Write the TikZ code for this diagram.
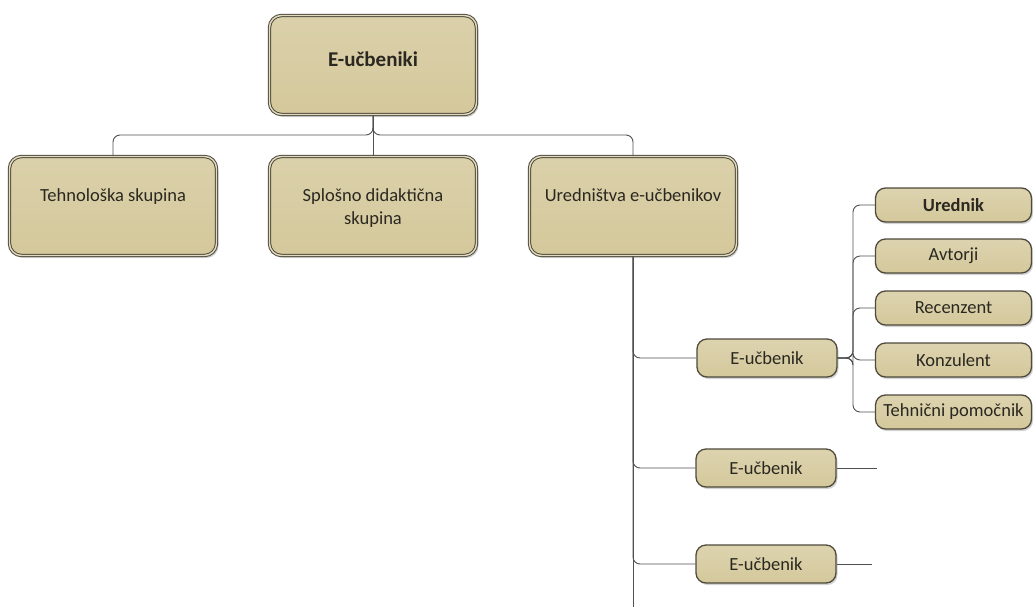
\documentclass[tikz,border=0pt]{standalone}
\usepackage{fontspec}
\setmainfont{Carlito}
\usetikzlibrary{shadows}
\definecolor{boxfill}{HTML}{D4C89B}
\definecolor{boxline}{HTML}{4E4A3C}
\definecolor{boxgap}{HTML}{E2DAC0}
\definecolor{conn}{HTML}{505050}
\definecolor{txtc}{HTML}{2A2820}
\tikzset{
  bigbox/.style={draw=boxline, line width=1pt, double=boxgap, double distance=1.4pt,
    top color=boxfill!85!white, bottom color=boxfill, rounded corners=12pt,
    minimum width=207pt, minimum height=99pt, inner sep=0pt,
    drop shadow={shadow xshift=2pt, shadow yshift=-2.5pt, opacity=0.35}},
  smallbox/.style={draw=boxline, line width=1.3pt,
    top color=boxfill!80!white, bottom color=boxfill, rounded corners=10pt,
    minimum width=156pt, minimum height=34pt, inner sep=0pt,
    font=\fontsize{18.5}{22}\selectfont, text=txtc,
    drop shadow={shadow xshift=1.5pt, shadow yshift=-2pt, opacity=0.35}},
  bookbox/.style={smallbox, minimum width=140pt, minimum height=38pt},
  txt/.style={font=\fontsize{18.5}{23}\selectfont, text=txtc, align=center, inner sep=0pt},
  conn/.style={draw=conn, line width=0.9pt, rounded corners=7pt},
}
\begin{document}
\begin{tikzpicture}[x=1pt,y=-1pt]
\useasboundingbox (0,0) rectangle (1034,611);
% top level
\node[bigbox] (root) at (373,65) {};
\node[txt, font=\fontsize{21}{25}\selectfont\bfseries] (troot) at (373,59) {E-učbeniki};
\node[bigbox] (b2) at (113,206) {};
\node[txt, anchor=base] (t2) at (113,201) {Tehnološka skupina};
\node[bigbox] (b3) at (373,206) {};
\node[txt] (t3) at (373,208) {Splošno didaktična\\skupina};
\node[bigbox] (b4) at (633,206) {};
\node[txt, anchor=base] (t4) at (633,201) {Uredništva e-učbenikov};
% connectors top
\draw[conn] (root.south) -- (b3.north);
\draw[conn] (root.south) -- ++(0,20) -| (b2.north);
\draw[conn] (root.south) -- ++(0,20) -| (b4.north);
% books
\node[bookbox] (e1) at (767,358) {E-učbenik};
\node[bookbox] (e2) at (766,468) {E-učbenik};
\node[bookbox] (e3) at (766,564) {E-učbenik};
\coordinate (trunkend) at (633,607);
\draw[conn] (b4.south) -- (trunkend);
\draw[conn] (b4.south) |- (e1.west);
\draw[conn] (b4.south) |- (e2.west);
\draw[conn] (b4.south) |- (e3.west);
\coordinate (e2end) at (877,468);
\coordinate (e3end) at (872,564);
\draw[conn] (e2.east) -- (e2end);
\draw[conn] (e3.east) -- (e3end);
% roles
\node[smallbox, font=\fontsize{18.5}{22}\selectfont\bfseries] (r1) at (953.5,205) {Urednik};
\node[smallbox] (r2) at (953.5,256) {Avtorji};
\node[smallbox] (r3) at (953.5,308) {Recenzent};
\node[smallbox] (r4) at (953.5,360) {Konzulent};
\node[smallbox] (r5) at (953.5,412) {Tehnični pomočnik};
\coordinate (fork) at (853,358);
\foreach \r in {r1,r2,r3,r4,r5}{
  \draw[conn] (e1.east) -- (fork) |- (\r.west);
}
\end{tikzpicture}
\end{document}
